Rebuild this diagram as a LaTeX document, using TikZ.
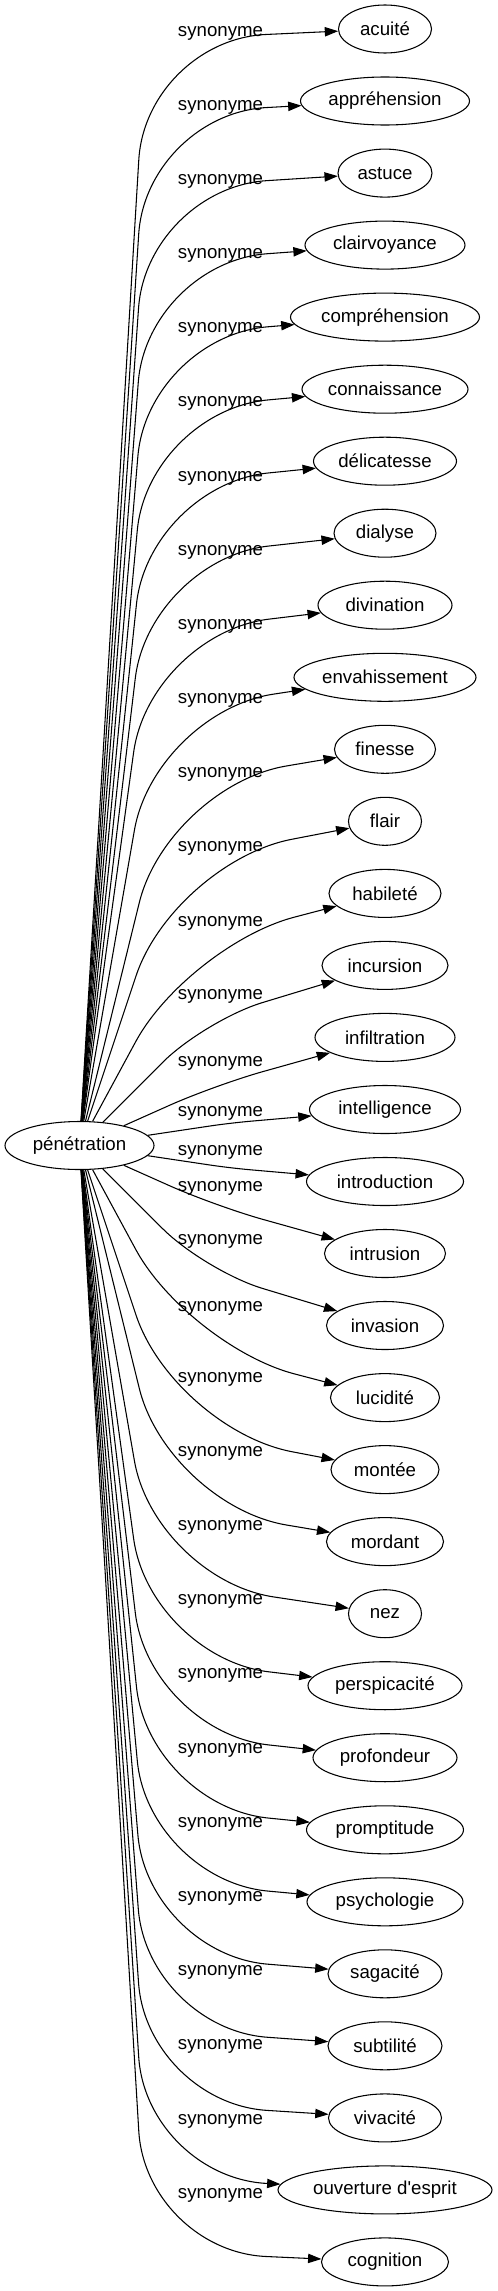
\documentclass[tikz,border=0pt]{standalone}
\usepackage{fontspec}
\setmainfont{Liberation Sans}
\usetikzlibrary{arrows.meta,shapes.geometric}
\newcommand\straightquote{\XeTeXglyph\XeTeXcharglyph"27\relax}
\tikzset{
	word/.style={draw, ellipse, inner sep=0pt, minimum height=36pt, line width=0.8pt, font=\fontsize{14pt}{16.8pt}\selectfont},
	syn/.style={inner sep=0pt, font=\fontsize{14pt}{16.8pt}\selectfont},
	rel/.style={-{Triangle[length=10pt,width=7pt]}, line width=0.8pt},
}
\begin{document}
\begin{tikzpicture}[x=0.75pt,y=-0.75pt]
	\useasboundingbox (0,0) rectangle (497,2291);
	\node[word, minimum width=111.75pt] (pen) at (79.5,1145.5) {pénétration};
	\node[word, minimum width=69.75pt] (acuite) at (385,29) {acuité};
	\node[word, minimum width=126.75pt] (apprehension) at (385,101) {appréhension};
	\node[word, minimum width=70.5pt] (astuce) at (385,173.1) {astuce};
	\node[word, minimum width=120pt] (clairvoyance) at (385,245.1) {clairvoyance};
	\node[word, minimum width=141.75pt] (comprehension) at (385,317.1) {compréhension};
	\node[word, minimum width=124.5pt] (connaissance) at (385,389.2) {connaissance};
	\node[word, minimum width=107.25pt] (delicatesse) at (385,461.2) {délicatesse};
	\node[word, minimum width=76.5pt] (dialyse) at (385,533.2) {dialyse};
	\node[word, minimum width=100.5pt] (divination) at (385,605.2) {divination};
	\node[word, minimum width=136.5pt] (envahissement) at (385,677.3) {envahissement};
	\node[word, minimum width=75.75pt] (finesse) at (385,749.3) {finesse};
	\node[word, minimum width=54.75pt] (flair) at (385,821.3) {flair};
	\node[word, minimum width=84pt] (habilete) at (385,893.4) {habileté};
	\node[word, minimum width=94.5pt] (incursion) at (385,965.4) {incursion};
	\node[word, minimum width=105pt] (infiltration) at (385,1037.4) {infiltration};
	\node[word, minimum width=113.25pt] (intelligence) at (385,1109.5) {intelligence};
	\node[word, minimum width=117.75pt] (introduction) at (385,1181.5) {introduction};
	\node[word, minimum width=90.75pt] (intrusion) at (385,1253.5) {intrusion};
	\node[word, minimum width=87.75pt] (invasion) at (385,1325.5) {invasion};
	\node[word, minimum width=81.75pt] (lucidite) at (385,1397.6) {lucidité};
	\node[word, minimum width=81pt] (montee) at (385,1469.6) {montée};
	\node[word, minimum width=87.75pt] (mordant) at (385,1541.6) {mordant};
	\node[word, minimum width=54.75pt] (nez) at (385,1613.7) {nez};
	\node[word, minimum width=115.5pt] (perspicacite) at (385,1685.7) {perspicacité};
	\node[word, minimum width=108pt] (profondeur) at (385,1757.7) {profondeur};
	\node[word, minimum width=117.75pt] (promptitude) at (385,1829.8) {promptitude};
	\node[word, minimum width=117pt] (psychologie) at (385,1901.8) {psychologie};
	\node[word, minimum width=85.5pt] (sagacite) at (385,1973.8) {sagacité};
	\node[word, minimum width=85.5pt] (subtilite) at (385,2045.8) {subtilité};
	\node[word, minimum width=84.75pt] (vivacite) at (385,2117.9) {vivacité};
	\node[word, minimum width=160.5pt] (ouverture) at (385,2189.9) {ouverture d\straightquote esprit};
	\node[word, minimum width=95.25pt] (cognition) at (385,2261.9) {cognition};
	\node[syn] (lab-acuite) at (220.5,33) {synonyme};
	\node[syn] (lab-apprehension) at (220.5,107.2) {synonyme};
	\node[syn] (lab-astuce) at (220.5,181.3) {synonyme};
	\node[syn] (lab-clairvoyance) at (220.5,255.5) {synonyme};
	\node[syn] (lab-comprehension) at (220.5,329.7) {synonyme};
	\node[syn] (lab-connaissance) at (220.5,403.9) {synonyme};
	\node[syn] (lab-delicatesse) at (220.5,478) {synonyme};
	\node[syn] (lab-dialyse) at (220.5,552.2) {synonyme};
	\node[syn] (lab-divination) at (220.5,626.4) {synonyme};
	\node[syn] (lab-envahissement) at (220.5,700.5) {synonyme};
	\node[syn] (lab-finesse) at (220.5,774.7) {synonyme};
	\node[syn] (lab-flair) at (220.5,848.9) {synonyme};
	\node[syn] (lab-habilete) at (220.5,923) {synonyme};
	\node[syn] (lab-incursion) at (220.5,996) {synonyme};
	\node[syn] (lab-infiltration) at (220.5,1063) {synonyme};
	\node[syn] (lab-intelligence) at (220.5,1113) {synonyme};
	\node[syn] (lab-introduction) at (220.5,1152) {synonyme};
	\node[syn] (lab-intrusion) at (220.5,1188) {synonyme};
	\node[syn] (lab-invasion) at (220.5,1241) {synonyme};
	\node[syn] (lab-lucidite) at (220.5,1308) {synonyme};
	\node[syn] (lab-montee) at (220.5,1379) {synonyme};
	\node[syn] (lab-mordant) at (220.5,1453.2) {synonyme};
	\node[syn] (lab-nez) at (220.5,1527.4) {synonyme};
	\node[syn] (lab-perspicacite) at (220.5,1601.6) {synonyme};
	\node[syn] (lab-profondeur) at (220.5,1675.8) {synonyme};
	\node[syn] (lab-promptitude) at (220.5,1750) {synonyme};
	\node[syn] (lab-psychologie) at (220.5,1824.2) {synonyme};
	\node[syn] (lab-sagacite) at (220.5,1898.4) {synonyme};
	\node[syn] (lab-subtilite) at (220.5,1972.6) {synonyme};
	\node[syn] (lab-vivacite) at (220.5,2046.8) {synonyme};
	\node[syn] (lab-ouverture) at (220.5,2121) {synonyme};
	\node[syn] (lab-cognition) at (220.5,2195.2) {synonyme};
	\draw[rel, rounded corners=90pt] (pen) -- (146,40) -- (acuite);
	\draw[rel, rounded corners=90pt] (pen) -- (146.5,114.2) -- (apprehension);
	\draw[rel, rounded corners=90pt] (pen) -- (147,188.3) -- (astuce);
	\draw[rel, rounded corners=90pt] (pen) -- (147.5,262.5) -- (clairvoyance);
	\draw[rel, rounded corners=90pt] (pen) -- (148,336.7) -- (comprehension);
	\draw[rel, rounded corners=90pt] (pen) -- (148.5,410.9) -- (connaissance);
	\draw[rel, rounded corners=90pt] (pen) -- (149,485) -- (delicatesse);
	\draw[rel, rounded corners=90pt] (pen) -- (149.5,559.2) -- (dialyse);
	\draw[rel, rounded corners=90pt] (pen) -- (150,633.4) -- (divination);
	\draw[rel, rounded corners=90pt] (pen) -- (155,712) -- (envahissement);
	\draw[rel, rounded corners=90pt] (pen) -- (168,786) -- (finesse);
	\draw[rel, rounded corners=90pt] (pen) -- (174,862) -- (flair);
	\draw[rel, rounded corners=82.5pt] (pen) -- (188,945) -- (habilete);
	\draw[rel, rounded corners=45pt] (pen) -- (205,1020) -- (incursion);
	\draw[rel, rounded corners=37.5pt] (pen) -- (215,1085) -- (infiltration);
	\draw[rel, rounded corners=15pt] (pen) -- (230,1123) -- (intelligence);
	\draw[rel, rounded corners=15pt] (pen) -- (230,1168) -- (introduction);
	\draw[rel, rounded corners=37.5pt] (pen) -- (215,1206) -- (intrusion);
	\draw[rel, rounded corners=45pt] (pen) -- (205,1271) -- (invasion);
	\draw[rel, rounded corners=82.5pt] (pen) -- (188,1346) -- (lucidite);
	\draw[rel, rounded corners=90pt] (pen) -- (174,1429) -- (montee);
	\draw[rel, rounded corners=90pt] (pen) -- (168,1505) -- (mordant);
	\draw[rel, rounded corners=90pt] (pen) -- (155,1579) -- (nez);
	\draw[rel, rounded corners=90pt] (pen) -- (150,1657.6) -- (perspicacite);
	\draw[rel, rounded corners=90pt] (pen) -- (149.5,1731.8) -- (profondeur);
	\draw[rel, rounded corners=90pt] (pen) -- (149,1806) -- (promptitude);
	\draw[rel, rounded corners=90pt] (pen) -- (148.5,1880.1) -- (psychologie);
	\draw[rel, rounded corners=90pt] (pen) -- (148,1954.3) -- (sagacite);
	\draw[rel, rounded corners=90pt] (pen) -- (147.5,2028.5) -- (subtilite);
	\draw[rel, rounded corners=90pt] (pen) -- (147,2102.7) -- (vivacite);
	\draw[rel, rounded corners=90pt] (pen) -- (146.5,2176.8) -- (ouverture);
	\draw[rel, rounded corners=90pt] (pen) -- (146,2251) -- (cognition);
\end{tikzpicture}
\end{document}
